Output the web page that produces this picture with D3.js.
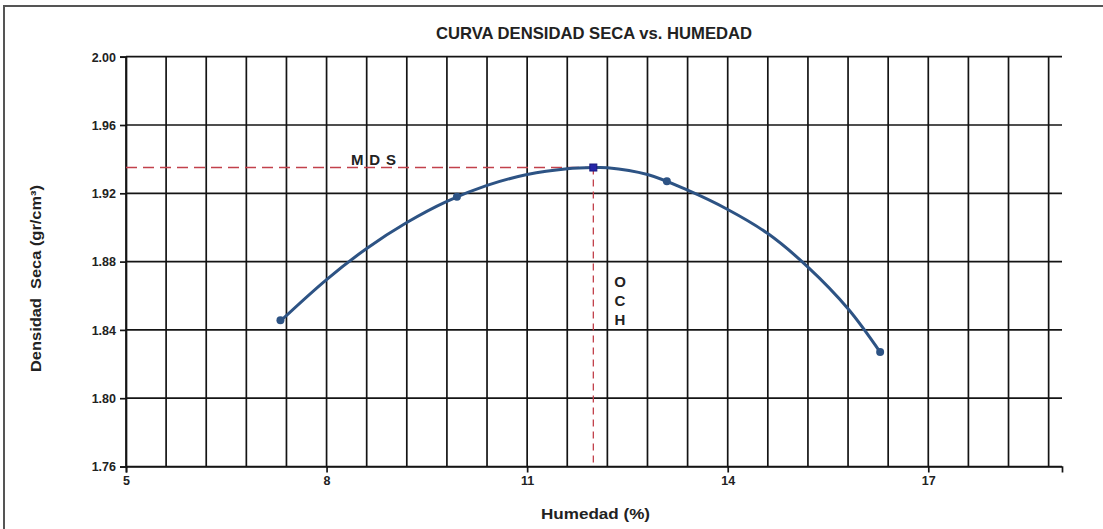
<!DOCTYPE html>
<html>
<head>
<meta charset="utf-8">
<script src="https://cdn.jsdelivr.net/npm/d3@7"></script>
<style>
  body { margin: 0; background: #fff; }
  svg text { font-family: "Liberation Sans", Arial, sans-serif; fill: #222; }
</style>
</head>
<body>
<div id="chart"></div>
<script>
// measured points (humedad %, densidad seca)
const pointsX = [7.31, 9.95, 13.09, 16.28];
const pointsY = [1.8456, 1.918, 1.927, 1.827];

// fitted curve
const curveX = [7.31, 8.0, 8.6, 9.2, 9.8, 10.4, 11.0, 11.6, 12.0, 12.2, 12.8, 13.4, 14.0, 14.6, 15.2, 15.8, 16.28];
const curveY = [1.8452, 1.8695, 1.8877, 1.9029, 1.9153, 1.9246, 1.931, 1.9344, 1.9351, 1.935, 1.931, 1.9218, 1.9105, 1.8964, 1.8768, 1.8524, 1.827];

// maximum dry density / optimum moisture
const maxX = 11.99;
const maxY = 1.9351;

const xTicks = [5, 8, 11, 14, 17];
const xGrid = d3.range(0, 24).map(i => 5 + i * 0.6);
const yTicks = [1.76, 1.80, 1.84, 1.88, 1.92, 1.96, 2.00];

const width = 1103, height = 529;
const margin = {top: 56.7, bottom: 62.5, left: 126, right: 41};
const innerW = width - margin.left - margin.right;
const innerH = height - margin.top - margin.bottom;

const svg = d3.select('#chart')
  .append('svg')
    .attr('width', width)
    .attr('height', height);

// outer frame
svg.append('rect')
  .attr('x', 4).attr('y', 6)
  .attr('width', 1200).attr('height', 600)
  .attr('fill', 'none')
  .attr('stroke', '#555')
  .attr('stroke-width', 2);

const g = svg.append('g')
  .attr('transform', 'translate(' + margin.left + ',' + margin.top + ')');

const x = d3.scaleLinear().domain([5, 19]).range([0, innerW]);
const y = d3.scaleLinear().domain([1.76, 2.00]).range([innerH, 0]);

const gridColor = '#141414';

// vertical grid
g.append('g')
  .selectAll('line')
  .data(xGrid)
  .join('line')
    .attr('x1', d => x(d)).attr('x2', d => x(d))
    .attr('y1', 0).attr('y2', innerH)
    .attr('stroke', gridColor)
    .attr('stroke-width', 1.7);

// horizontal grid
g.append('g')
  .selectAll('line')
  .data(yTicks)
  .join('line')
    .attr('x1', 0).attr('x2', innerW)
    .attr('y1', d => y(d)).attr('y2', d => y(d))
    .attr('stroke', gridColor)
    .attr('stroke-width', 1.7);

// axes
const yAxis = g.append('g')
  .call(d3.axisLeft(y).tickValues(yTicks).tickFormat(d3.format('.2f')).tickSize(6).tickPadding(4));
const xAxis = g.append('g')
  .attr('transform', 'translate(0,' + innerH + ')')
  .call(d3.axisBottom(x).tickValues(xTicks).tickFormat(d3.format('d')).tickSize(6).tickPadding(4));

[xAxis, yAxis].forEach(a => {
  a.select('.domain').attr('stroke', gridColor).attr('stroke-width', 1.7);
  a.selectAll('.tick line').attr('stroke', gridColor).attr('stroke-width', 1.7);
  a.selectAll('.tick text')
    .style('font-family', '"Liberation Sans", Arial, sans-serif')
    .style('font-size', '12.5px')
    .style('font-weight', 'bold')
    .attr('fill', '#333');
});
yAxis.selectAll('.tick text').attr('dy', '0.35em');

// red dashed guides
g.append('line')
  .attr('x1', 0).attr('x2', x(maxX))
  .attr('y1', y(maxY)).attr('y2', y(maxY))
  .attr('stroke', '#c2414b')
  .attr('stroke-width', 1.4)
  .attr('stroke-dasharray', '11,6');
g.append('line')
  .attr('x1', x(maxX)).attr('x2', x(maxX))
  .attr('y1', y(maxY)).attr('y2', innerH)
  .attr('stroke', '#c2414b')
  .attr('stroke-width', 1.3)
  .attr('stroke-dasharray', '7,5');

// curve
const curveData = curveX.map((d, i) => [d, curveY[i]]);
g.append('path')
  .datum(curveData)
  .attr('fill', 'none')
  .attr('stroke', '#2d5384')
  .attr('stroke-width', 3)
  .attr('d', d3.line().x(d => x(d[0])).y(d => y(d[1])).curve(d3.curveCatmullRom));

g.append('g')
  .selectAll('circle')
  .data(pointsX.map((d, i) => [d, pointsY[i]]))
  .join('circle')
    .attr('cx', d => x(d[0]))
    .attr('cy', d => y(d[1]))
    .attr('r', 4)
    .attr('fill', '#2d5384');

g.append('rect')
  .attr('x', x(maxX) - 3.5).attr('y', y(maxY) - 3.5)
  .attr('width', 7).attr('height', 7)
  .attr('fill', '#2626a8')
  .attr('stroke', '#1a1a80')
  .attr('stroke-width', 1);

// annotations
g.append('text')
  .attr('x', 351 - margin.left).attr('y', 165 - margin.top)
  .attr('textLength', 45)
  .attr('lengthAdjust', 'spacing')
  .style('font-size', '15px').style('font-weight', 'bold')
  .style('white-space', 'pre')
  .text('M D S');

['O', 'C', 'H'].forEach((c, i) => {
  g.append('text')
    .attr('x', 620 - margin.left).attr('y', 287 - margin.top + i * 19)
    .attr('text-anchor', 'middle')
    .style('font-size', '15px').style('font-weight', 'bold')
    .text(c);
});

// title and labels
svg.append('text')
  .attr('x', 436).attr('y', 39)
  .attr('textLength', 316)
  .attr('lengthAdjust', 'spacingAndGlyphs')
  .style('font-size', '17px').style('font-weight', 'bold')
  .attr('fill', '#2a2a2a')
  .text('CURVA DENSIDAD SECA vs. HUMEDAD');

svg.append('text')
  .attr('x', 541).attr('y', 519)
  .attr('textLength', 109)
  .attr('lengthAdjust', 'spacingAndGlyphs')
  .style('font-size', '15px').style('font-weight', 'bold')
  .text('Humedad (%)');

svg.append('text')
  .attr('transform', 'translate(41,372) rotate(-90)')
  .attr('textLength', 187)
  .attr('lengthAdjust', 'spacingAndGlyphs')
  .style('font-size', '15px').style('font-weight', 'bold')
  .style('white-space', 'pre')
  .text('Densidad  Seca (gr/cm³)');
</script>
</body>
</html>
